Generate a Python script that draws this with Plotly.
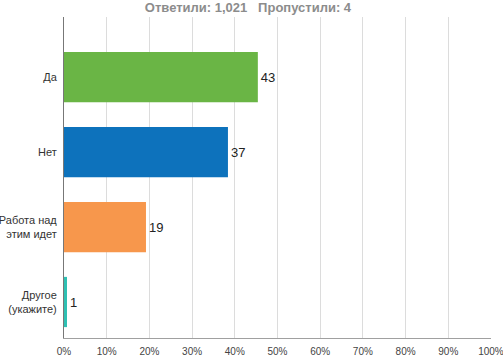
import plotly.graph_objects as go

categories = ["Да", "Нет", "Работа над<br>этим идет", "Другое<br>(укажите)"]
bar_percent = [45.4, 38.4, 19.2, 0.7]
label_values = ["43", "37", "19", "1"]
colors = ["#6ab545", "#0d72bc", "#f7974c", "#2fc0b3"]
tick_vals = [0, 10, 20, 30, 40, 50, 60, 70, 80, 90, 100]
tick_text = [f"{v}%" for v in tick_vals]
positions = list(range(len(categories)))

fig = go.Figure(go.Bar(
    x=bar_percent, y=positions, orientation="h",
    marker=dict(color=colors, line=dict(width=0)),
    width=0.67,
    text=label_values, textposition="outside",
    textfont=dict(family="Liberation Sans, Arial, sans-serif", size=13, color="#222"),
    cliponaxis=False,
))

fig.update_layout(
    width=503, height=357,
    margin=dict(l=64, r=12, t=17, b=19, autoexpand=False),
    paper_bgcolor="white", plot_bgcolor="white",
    showlegend=False,
    font=dict(family="Liberation Sans, Arial, sans-serif", size=11, color="#333"),
    title=dict(text="<b>Ответили: 1,021   Пропустили: 4</b>",
               x=0.493, xref="container", xanchor="center",
               y=1 - 7/357, yref="container", yanchor="middle",
               font=dict(size=13, color="#8c8c8c")),
    xaxis=dict(range=[0, 100.01], tickvals=tick_vals, ticktext=tick_text,
               showgrid=True, gridcolor="#dcdcdc", gridwidth=1,
               zeroline=False, showline=True, linecolor="#a0a0a0", linewidth=1,
               ticks="", ticklabelstandoff=4, automargin=False,
               ticklabeloverflow="allow",
               tickfont=dict(size=10, color="#444")),
    yaxis=dict(range=[3.48, -0.8], tickvals=positions, ticktext=categories,
               showgrid=False, zeroline=False, showline=True, automargin=False,
               linecolor="#777", linewidth=1, ticks="", ticklabelstandoff=4,
               tickfont=dict(size=11, color="#333")),
)

fig.write_html("out.html", config={"displayModeBar": False},
               post_script="document.body.style.margin='0';document.body.style.overflow='hidden';")
